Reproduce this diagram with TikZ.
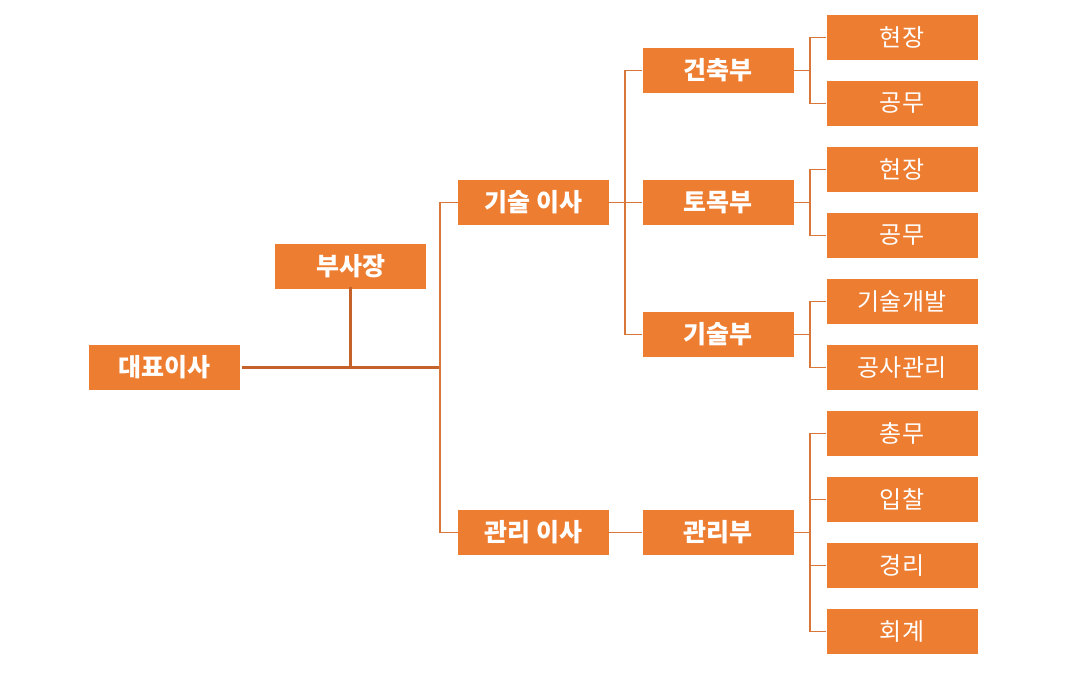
\documentclass[tikz,border=0pt]{standalone}
\usepackage{fontspec}
\setmainfont{Noto Sans CJK KR}
\begin{document}
\begin{tikzpicture}[x=1pt,y=-1pt,
  box/.style={fill=boxorange,draw=none,minimum width=151pt,minimum height=45pt,inner sep=0pt,text=white,font=\fontsize{24}{24}\selectfont},
  hbox/.style={box,font=\fontsize{25}{25}\selectfont\bfseries},
  mainline/.style={draw=linedark,line width=2.6pt},
  conn/.style={draw=linelight,line width=1.8pt}]
\definecolor{boxorange}{HTML}{ED7D31}
\definecolor{linedark}{HTML}{C4622A}
\definecolor{linelight}{HTML}{D9773A}
\useasboundingbox (0,0) rectangle (1067,678);
% level nodes
\node[hbox] (ceo) at (164.5,367.5) {대표이사};
\node[hbox] (vp) at (350.5,266.5) {부사장};
\node[hbox] (tech) at (533.5,202.5) {기술 이사};
\node[hbox] (admin) at (533.5,532.5) {관리 이사};
\node[hbox] (arch) at (718,70.5) {건축부};
\node[hbox] (civil) at (718,202.5) {토목부};
\node[hbox] (techd) at (718,334.5) {기술부};
\node[hbox] (admd) at (718,532.5) {관리부};
% leaves
\node[box] (l1) at (902,37.5) {현장};
\node[box] (l2) at (902,103.5) {공무};
\node[box] (l3) at (902,169.5) {현장};
\node[box] (l4) at (902,235.5) {공무};
\node[box] (l5) at (902,301.5) {기술개발};
\node[box] (l6) at (902,367.5) {공사관리};
\node[box] (l7) at (902,433.5) {총무};
\node[box] (l8) at (902,499.5) {입찰};
\node[box] (l9) at (902,565.5) {경리};
\node[box] (l10) at (902,631.5) {회계};
% coordinates
\coordinate (j1) at (440,367.5);
\coordinate (j0) at (350.5,367.5);
% main line
\draw[mainline] ([xshift=2pt]ceo.east) -- (j1);
\draw[mainline] ([yshift=2pt]vp.south) -- (j0);
% to directors
\draw[conn] (tech.west) -- ++(-18,0) |- (admin.west);
% tech director to departments
\draw[conn] (tech.east) -- ++(16,0);
\draw[conn] (arch.west) -- ++(-17,0) |- (techd.west);
\draw[conn] ([xshift=-17pt]civil.west) -- (civil.west);
\draw[conn] (admin.east) -- (admd.west);
% departments to leaves
\draw[conn] (arch.east) -- ++(16,0);
\draw[conn] (l1.west) -- ++(-16,0) |- (l2.west);
\draw[conn] (civil.east) -- ++(16,0);
\draw[conn] (l3.west) -- ++(-16,0) |- (l4.west);
\draw[conn] (techd.east) -- ++(16,0);
\draw[conn] (l5.west) -- ++(-16,0) |- (l6.west);
\draw[conn] (admd.east) -- ++(16,0);
\draw[conn] (l7.west) -- ++(-16,0) |- (l10.west);
\draw[conn] ([xshift=-16pt]l8.west) -- (l8.west);
\draw[conn] ([xshift=-16pt]l9.west) -- (l9.west);
\end{tikzpicture}
\end{document}
